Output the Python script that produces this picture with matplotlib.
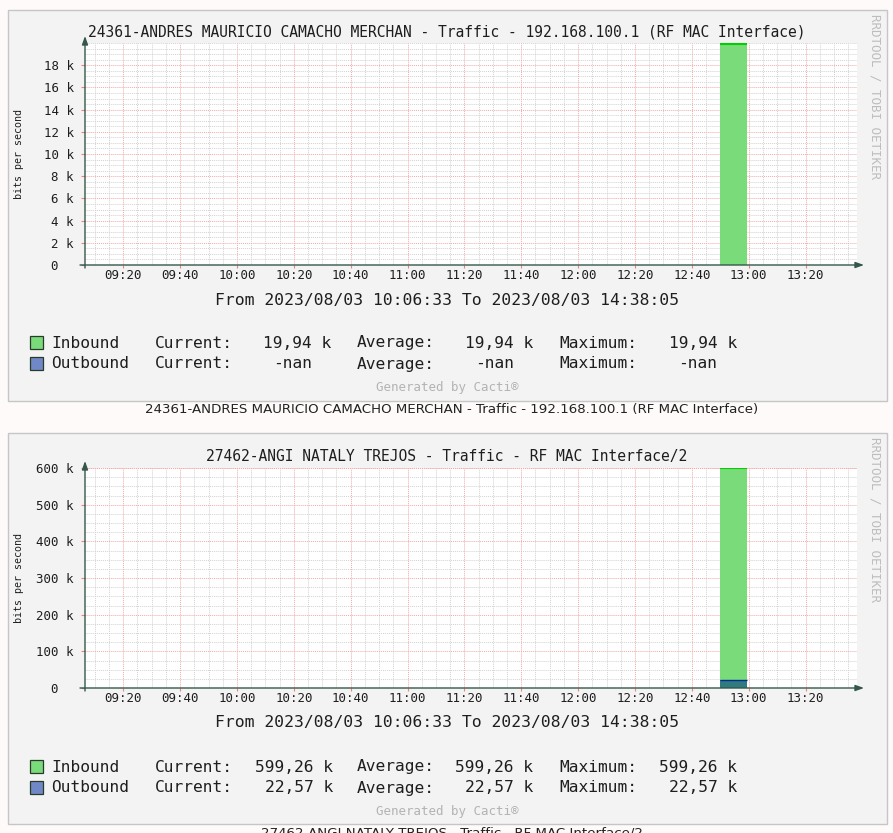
import matplotlib
matplotlib.use("Agg")
import matplotlib.pyplot as plt
from matplotlib.patches import Rectangle
import numpy as np

W, H = 893, 833

# ---------------- data ----------------
x_tick_labels = ["09:20", "09:40", "10:00", "10:20", "10:40", "11:00", "11:20",
                 "11:40", "12:00", "12:20", "12:40", "13:00", "13:20"]
x_tick_minutes = [20, 40, 60, 80, 100, 120, 140, 160, 180, 200, 220, 240, 260]  # minutes after 09:00
x_range = [6.55, 278.08]          # 09:06:33 .. 13:38:05 (displayed)
bar_time = [230, 239.5]           # 12:50 .. 13:00

titles = ["24361-ANDRES MAURICIO CAMACHO MERCHAN - Traffic - 192.168.100.1 (RF MAC Interface)",
          "27462-ANGI NATALY TREJOS - Traffic - RF MAC Interface/2"]
captions = titles
period_text = "From 2023/08/03 10:06:33 To 2023/08/03 14:38:05"

inbound = [19940.0, 599260.0]
outbound = [np.nan, 22570.0]

y1_ticks = [0, 2000, 4000, 6000, 8000, 10000, 12000, 14000, 16000, 18000]
y1_labels = ["0  ", "2 k", "4 k", "6 k", "8 k", "10 k", "12 k", "14 k", "16 k", "18 k"]
y2_ticks = [0, 100000, 200000, 300000, 400000, 500000, 600000]
y2_labels = ["0  ", "100 k", "200 k", "300 k", "400 k", "500 k", "600 k"]
y_max = [20000, 600000]
y_minor_step = [500, 25000]

legend_in = [("19,94 k", "19,94 k", "19,94 k"), ("599,26 k", "599,26 k", "599,26 k")]
legend_out = [("-nan", "-nan", "-nan"), ("22,57 k", "22,57 k", "22,57 k")]

# ---------------- style ----------------
MONO = "DejaVu Sans Mono"
PAGE_BG = "#FDFAF9"
PANEL_BG = "#F3F3F3"
PANEL_EDGE = "#C6C6C6"
AXIS_COL = "#33584A"
IN_FILL = "#7ADB7A"
IN_LINE = "#00CF00"
OUT_FILL = "#2F7B80"
OUT_LINE = "#002A97"
OUT_LEG = "#7089C6"
TXT = "#1E1E1E"

fig = plt.figure(figsize=(W / 100, H / 100), dpi=100, facecolor=PAGE_BG)


def fx(x):
    return x / W


def fy(y):
    return 1 - y / H


def rect_px(x0, y0, x1, y1, **kw):
    r = Rectangle((fx(x0), fy(y1)), fx(x1) - fx(x0), fy(y0) - fy(y1),
                  transform=fig.transFigure, **kw)
    fig.patches.append(r)
    return r


def text_px(x, y, s, **kw):
    fig.text(fx(x), fy(y), s, **kw)


panels = [
    dict(top=10, bottom=401, ax_top=43, ax_bot=265, title_y=32, period_y=300,
         leg_y=(342, 363), gen_y=388, cap_y=410, yticks=y1_ticks, ylabels=y1_labels,
         cur_x=(331, 312), avg_x=(533, 514), max_x=(737, 717)),
    dict(top=433, bottom=824, ax_top=468, ax_bot=688, title_y=456, period_y=723,
         leg_y=(766, 787), gen_y=811, cap_y=834, yticks=y2_ticks, ylabels=y2_labels,
         cur_x=(333, 333), avg_x=(533, 533), max_x=(737, 737)),
]

AX_L, AX_R = 85, 857

for i, p in enumerate(panels):
    # panel background
    rect_px(8, p["top"], 887, p["bottom"], facecolor=PANEL_BG, edgecolor=PANEL_EDGE,
            linewidth=1.0, zorder=-5)

    ax = fig.add_axes([fx(AX_L), fy(p["ax_bot"]), fx(AX_R) - fx(AX_L), fy(p["ax_top"]) - fy(p["ax_bot"])])
    ax.set_zorder(1)
    ax.set_facecolor("white")
    ax.set_xlim(*x_range)
    ax.set_ylim(0, y_max[i])
    for s in ax.spines.values():
        s.set_visible(False)

    # grid
    for xm in np.arange(10, 278, 5):
        if xm % 20 == 0:
            continue
        ax.axvline(xm, color="#D2D2D2", lw=0.7, ls=(0, (1, 1)), zorder=1)
    for ym in np.arange(y_minor_step[i], y_max[i] + 1, y_minor_step[i]):
        if ym in p["yticks"]:
            continue
        ax.axhline(ym, color="#D2D2D2", lw=0.7, ls=(0, (1, 1)), zorder=1)
    for xm in x_tick_minutes:
        ax.axvline(xm, color="#F2A9A9", lw=0.7, ls=(0, (1, 1)), zorder=1.5)
    for ym in p["yticks"][1:]:
        ax.axhline(ym, color="#F2A9A9", lw=0.7, ls=(0, (1, 1)), zorder=1.5)
    if i == 1:
        ax.axhline(y_max[i], color="#F2A9A9", lw=0.7, ls=(0, (1, 1)), zorder=1.5)

    # data
    ax.fill_between(bar_time, 0, [inbound[i]] * 2, color=IN_FILL, lw=0, zorder=3)
    ax.plot(bar_time, [inbound[i]] * 2, color=IN_LINE, lw=1.5, zorder=4, solid_capstyle="butt")
    if not np.isnan(outbound[i]):
        ax.fill_between(bar_time, 0, [outbound[i]] * 2, color=OUT_FILL, lw=0, zorder=3)
        ax.plot(bar_time, [outbound[i]] * 2, color=OUT_LINE, lw=1.0, zorder=4, solid_capstyle="butt")

    # ticks
    ax.set_xticks(x_tick_minutes)
    ax.set_xticklabels(x_tick_labels, fontfamily=MONO, fontsize=9, color=TXT)
    ax.set_yticks(p["yticks"])
    ax.set_yticklabels(p["ylabels"], fontfamily=MONO, fontsize=9, color=TXT)
    ax.tick_params(axis="x", length=2, color="#F08080", pad=1.2, direction="out")
    ax.tick_params(axis="y", length=3, color="#F08080", pad=5, direction="out")

    # axes lines with arrows
    ax_bot_pix = H - p["ax_bot"]
    ax_top_pix = H - p["ax_top"]
    ax.annotate("", xy=(864, ax_bot_pix), xytext=(80, ax_bot_pix),
                xycoords="figure pixels", textcoords="figure pixels",
                arrowprops=dict(arrowstyle="-|>,head_length=0.5,head_width=0.18",
                                color=AXIS_COL, lw=1.0, shrinkA=0, shrinkB=0),
                zorder=10, annotation_clip=False)
    ax.annotate("", xy=(AX_L, ax_top_pix + 7), xytext=(AX_L, ax_bot_pix - 3),
                xycoords="figure pixels", textcoords="figure pixels",
                arrowprops=dict(arrowstyle="-|>,head_length=0.5,head_width=0.18",
                                color=AXIS_COL, lw=1.0, shrinkA=0, shrinkB=0),
                zorder=10, annotation_clip=False)

    # y label
    text_px(19, (p["ax_top"] + p["ax_bot"]) / 2, "bits per second", rotation=90,
            ha="center", va="center", fontfamily=MONO, fontsize=7.2, color=TXT)

    # title
    text_px(447, p["title_y"], titles[i], ha="center", va="center",
            fontfamily=MONO, fontsize=10.5, color=TXT)

    # vertical watermark
    text_px(875, p["top"] + 4, "RRDTOOL / TOBI OETIKER", rotation=-90, ha="center", va="top",
            fontfamily=MONO, fontsize=9, color="#BDBDBD")

    # period
    text_px(447, p["period_y"], period_text, ha="center", va="center",
            fontfamily=MONO, fontsize=11.8, color=TXT)

    # legend
    rows = [("Inbound", IN_FILL, legend_in[i]), ("Outbound", OUT_LEG, legend_out[i])]
    for r, (name, col, vals) in enumerate(rows):
        y = p["leg_y"][r]
        yb = y + 5.5
        rect_px(30, y - 6.5, 43, y + 6.5, facecolor=col, edgecolor="#2A3A2A", linewidth=0.9, zorder=2)
        text_px(51, yb, name, ha="left", va="baseline", fontfamily=MONO, fontsize=11.7, color=TXT)
        text_px(155, yb, "Current:", ha="left", va="baseline", fontfamily=MONO, fontsize=11.7, color=TXT)
        text_px(357, yb, "Average:", ha="left", va="baseline", fontfamily=MONO, fontsize=11.7, color=TXT)
        text_px(559, yb, "Maximum:", ha="left", va="baseline", fontfamily=MONO, fontsize=11.7, color=TXT)
        for xr, v in zip((p["cur_x"][r], p["avg_x"][r], p["max_x"][r]), vals):
            text_px(xr, yb, v, ha="right", va="baseline", fontfamily=MONO, fontsize=11.7, color=TXT)

    text_px(447, p["gen_y"], "Generated by Cacti®", ha="center", va="center",
            fontfamily=MONO, fontsize=9, color="#B3B3B3")

    # caption below panel
    text_px(452, p["cap_y"], captions[i], ha="center", va="center",
            fontfamily="DejaVu Sans", fontsize=9.6, color="#222222")

fig.savefig("out.png", dpi=100, facecolor=PAGE_BG)
